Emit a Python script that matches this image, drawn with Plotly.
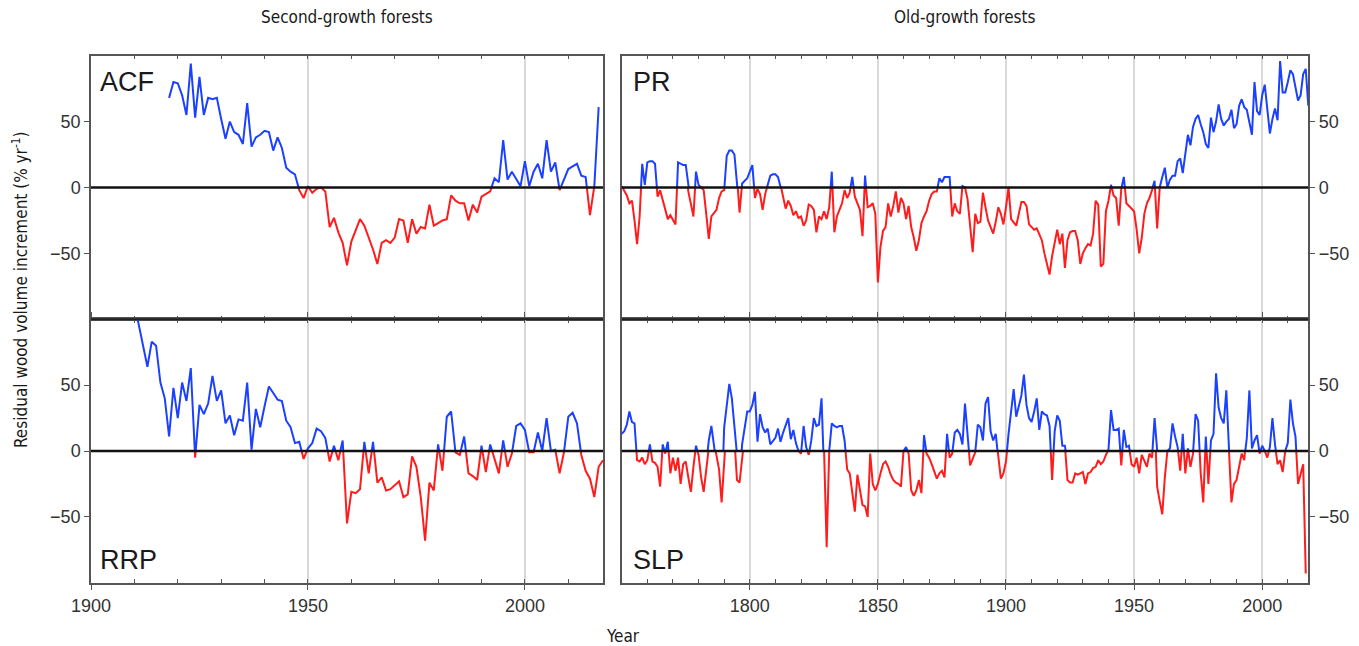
import plotly.graph_objects as go

# ---------------------------------------------------------------------------
# Residual wood volume increment (% per year), annual series per site
# ---------------------------------------------------------------------------
ACF_START = 1918
ACF = [
    68, 80, 79, 70, 55, 94, 53, 84, 55, 68,
    67, 68, 52, 37, 50, 42, 40, 33, 64, 31,
    38, 40, 43, 42, 28, 38, 30, 15, 12, 10,
    -2, -8, 1, -4, -1, 0, -3, -30, -23, -34,
    -42, -59, -41, -32, -24, -29, -38, -47, -58, -42,
    -40, -42, -38, -24, -25, -42, -24, -35, -30, -31,
    -13, -29, -27, -25, -24, -6, -10, -12, -12, -25,
    -13, -19, -7, -5, -3, 7, 4, 36, 6, 12,
    7, 1, 20, 1, 12, 18, 7, 36, 12, 19,
    -2, 6, 14, 16, 18, 9, 8, -21, 1, 61,
]

RRP_START = 1910
RRP = [
    112, 95, 80, 64, 83, 80, 52, 40, 11, 48,
    25, 52, 38, 63, -5, 35, 28, 36, 57, 38,
    46, 21, 27, 12, 24, 23, 52, 1, 32, 18,
    34, 49, 44, 39, 38, 23, 18, 6, 7, -6,
    2, 6, 17, 15, 10, -8, 4, -7, 8, -55,
    -31, -32, -29, 7, -17, 7, -24, -20, -30, -29,
    -26, -23, -35, -33, -4, -12, -35, -68, -24, -30,
    5, -15, 26, 30, -1, -3, 11, -17, -19, -22,
    4, -16, 5, -7, -17, 8, -12, -2, 19, 21,
    16, -1, -1, 14, 0, 25, 0, 1, -17, -1,
    26, 29, 21, -3, -15, -21, -35, -12, -7,
]

PR_START = 1750
PR = [
    1, -2, -6, -12, -10, -25, -43, -22, 18, 2,
    19, 20, 20, 18, -7, -2, -10, -18, -24, -21,
    -25, -28, 19, 18, 17, 17, -3, -12, -22, 12,
    2, 0, -2, -20, -39, -22, -19, -17, -8, -3,
    -2, 24, 28, 28, 25, 8, -19, 3, 5, 7,
    12, 17, -8, -1, -5, -17, -5, 2, 9, 10,
    10, 8, 2, -7, -16, -10, -14, -21, -18, -23,
    -22, -29, -25, -13, -14, -17, -34, -22, -24, -18,
    -24, -15, 12, -34, -22, -17, -12, -2, -8, -4,
    8, -7, -12, -17, -37, 9, -15, -14, -12, -20,
    -72, -45, -33, -30, -12, -22, -14, -3, -19, -8,
    -12, -24, -14, -30, -38, -48, -40, -27, -22, -18,
    -10, -5, -3, -3, 7, 4, 8, 8, 8, -22,
    -12, -18, -20, 1, 0, -9, -30, -49, -20, -27,
    -26, -4, -15, -25, -30, -35, -26, -15, -20, -28,
    -15, 0, -24, -27, -29, -20, -11, -11, -14, -28,
    -30, -32, -31, -35, -40, -50, -57, -66, -52, -42,
    -32, -43, -35, -61, -40, -34, -33, -33, -40, -58,
    -50, -46, -43, -44, -35, -10, -13, -60, -58, -18,
    -10, 2, -6, -8, -29, -1, 8, -12, -14, -16,
    -18, -32, -50, -38, -20, -12, -8, -2, 5, -31,
    0, 8, 15, 0, 6, 9, 9, 20, 22, 11,
    28, 40, 32, 46, 52, 55, 48, 42, 33, 30,
    53, 42, 50, 63, 52, 47, 50, 52, 59, 45,
    48, 62, 67, 61, 59, 50, 40, 80, 58, 55,
    70, 78, 58, 41, 52, 60, 51, 96, 72, 72,
    80, 89, 86, 75, 66, 70, 86, 90, 62,
]

SLP_START = 1750
SLP = [
    13, 15, 20, 30, 22, 21, -7, -8, -5, -10,
    -7, 5, -8, -9, -12, -27, 5, -2, 7, -17,
    -5, -15, -5, -25, -10, -8, -20, -31, -12, 4,
    -3, -20, -31, -10, 8, 19, 7, -5, -14, -39,
    18, 35, 51, 40, 11, -22, -24, 5, 18, 30,
    30, 35, 45, 7, 28, 18, 14, 17, 5, 8,
    10, 17, 7, 14, 20, 25, 9, 16, 6, 0,
    -2, 19, 3, -3, 8, 25, 19, 20, 40, 0,
    -73, 0, 21, 19, 18, 19, 19, 8, -14, -17,
    -30, -46, -18, -30, -41, -42, -50, -2, -25, -30,
    -25, -17, -10, -8, -12, -18, -22, -24, -25, -27,
    0, 3, -2, -30, -34, -30, -22, -32, 12, -2,
    -5, -10, -15, -21, -17, -15, -20, 13, -5, -2,
    14, 16, 13, 5, 36, 12, -11, -6, -1, 20,
    18, 8, 36, 41, 15, 8, 13, -6, -21, -17,
    -8, 13, 30, 47, 26, 35, 42, 58, 35, 25,
    22, 30, 40, 16, 30, 28, 27, 19, -22, 15,
    27, 23, 4, 4, -22, -24, -24, -17, -18, -17,
    -16, -25, -17, -16, -13, -12, -7, -10, -8, -3,
    1, 31, 16, 16, 17, -11, 16, 3, 4, -10,
    -12, -5, -17, -3, -8, -12, -2, -5, 25, -27,
    -38, -48, -20, 0, 2, 21, 11, 3, -15, 13,
    -17, 2, -12, -2, 28, 23, -17, -39, 11, -25,
    8, 13, 59, 33, 25, 21, 46, 2, -39, -25,
    -22, -12, -2, -7, 10, 46, 2, 8, 12, -2,
    4, 0, -5, 3, 25, 5, -10, -7, -16, 0,
    6, 39, 21, 11, -25, -17, -10, -93,
]

COLUMN_TITLES = ["Second-growth forests", "Old-growth forests"]
Y_TITLE = "Residual wood volume increment (% yr<sup>-1</sup>)"
X_TITLE = "Year"

X_RANGES = [(1900, 2018), (1750, 2018)]
X_LABELLED = [[1900, 1950, 2000], [1800, 1850, 1900, 1950, 2000]]
X_MINOR = [list(range(1910, 2018, 10)), list(range(1760, 2018, 10))]
Y_RANGE = (-100, 100)
Y_TICKS = [-50, 0, 50]

# ---------------------------------------------------------------------------
# Styling / layout
# ---------------------------------------------------------------------------
W, H = 1359, 646
BLUE = "rgb(28,64,255)"
RED = "rgb(255,28,28)"
FRAME = "#555555"
CONDENSED = "DejaVu Sans Condensed, Liberation Sans Narrow, sans-serif"
REGULAR = "Liberation Sans, Arial, sans-serif"

COL_X = [(91 / W, 603 / W), (621.7 / W, 1308.3 / W)]
ROW_Y = [(1 - 319.3 / H, 1 - 55.7 / H), (1 - 582.7 / H, 1 - 319.3 / H)]

panels = [
    dict(name="ACF", start=ACF_START, vals=ACF, col=0, row=0, label_y=82),
    dict(name="PR", start=PR_START, vals=PR, col=1, row=0, label_y=82),
    dict(name="RRP", start=RRP_START, vals=RRP, col=0, row=1, label_y=560),
    dict(name="SLP", start=SLP_START, vals=SLP, col=1, row=1, label_y=560),
]
LABEL_X = [98, 631]


def axis_key(kind, n):
    return f"{kind}axis" if n == 1 else f"{kind}axis{n}"


def axis_ref(kind, n):
    return kind if n == 1 else f"{kind}{n}"


fig = go.Figure()
layout = {}
shapes = []
annotations = []
tick_font = dict(family=REGULAR, size=18, color="#333333")

for i, p in enumerate(panels):
    c, r = p["col"], p["row"]
    main, aux, top, bot = i + 1, i + 5, i + 5, i + 9
    y0, y1 = ROW_Y[r]
    ymid = (y0 + y1) / 2
    bottom_row = r == 1

    # framed panel with ticks, grid and labels
    layout[axis_key("x", main)] = dict(
        domain=COL_X[c], range=X_RANGES[c], anchor=axis_ref("y", main),
        tickmode="array", tickvals=X_LABELLED[c],
        showticklabels=bottom_row, ticks="outside" if bottom_row else "",
        ticklen=6, tickwidth=1.3, tickcolor=FRAME,
        minor=dict(tickmode="array", tickvals=X_MINOR[c], ticks="inside",
                   ticklen=4, tickwidth=1.2, tickcolor=FRAME, showgrid=False),
        showgrid=True, gridcolor="#d9d9d9", gridwidth=1.5,
        showline=True, linecolor=FRAME, linewidth=1.5, mirror="ticks",
        zeroline=False, fixedrange=True, automargin=False,
        tickfont=tick_font,
    )
    layout[axis_key("y", main)] = dict(
        domain=[y0, y1], range=Y_RANGE, anchor=axis_ref("x", main),
        side="left" if c == 0 else "right",
        tickmode="array", tickvals=Y_TICKS, ticks="outside",
        ticklen=5, tickwidth=1.3, tickcolor=FRAME,
        showline=True, linecolor=FRAME, linewidth=1.5, mirror=True,
        showgrid=False, zeroline=False, fixedrange=True, automargin=False,
        tickfont=tick_font,
    )

    # hidden axes: positive half and negative half of the panel, so each
    # coloured copy of the series is clipped at zero
    layout[axis_key("x", aux)] = dict(
        domain=COL_X[c], range=X_RANGES[c], anchor=axis_ref("y", top),
        visible=False, fixedrange=True,
    )
    layout[axis_key("y", top)] = dict(
        domain=[ymid, y1], range=[0, Y_RANGE[1]], anchor=axis_ref("x", aux),
        visible=False, fixedrange=True,
    )
    layout[axis_key("y", bot)] = dict(
        domain=[y0, ymid], range=[Y_RANGE[0], 0], anchor=axis_ref("x", aux),
        visible=False, fixedrange=True,
    )

    years = list(range(p["start"], p["start"] + len(p["vals"])))
    fig.add_trace(go.Scatter(
        x=years, y=p["vals"], mode="lines",
        line=dict(color=BLUE, width=2),
        xaxis=axis_ref("x", aux), yaxis=axis_ref("y", top),
        hoverinfo="skip", showlegend=False,
    ))
    fig.add_trace(go.Scatter(
        x=years, y=p["vals"], mode="lines",
        line=dict(color=RED, width=2),
        xaxis=axis_ref("x", aux), yaxis=axis_ref("y", bot),
        hoverinfo="skip", showlegend=False,
    ))

    # zero reference line
    shapes.append(dict(
        type="line", layer="above",
        xref=f"{axis_ref('x', main)} domain", x0=0, x1=1,
        yref=axis_ref("y", main), y0=0, y1=0,
        line=dict(color="#111111", width=2.5),
    ))

    annotations.append(dict(
        text=p["name"], showarrow=False,
        xref="paper", yref="paper", x=LABEL_X[c] / W, y=1 - p["label_y"] / H,
        xanchor="left", yanchor="middle",
        font=dict(family=REGULAR, size=27, color="#1a1a1a"),
    ))

# divider between upper and lower rows
for c in range(2):
    shapes.append(dict(
        type="line", layer="above", xref="paper", yref="paper",
        x0=COL_X[c][0], x1=COL_X[c][1], y0=ROW_Y[0][0], y1=ROW_Y[0][0],
        line=dict(color="#222222", width=2),
    ))

title_font = dict(family=CONDENSED, size=17, color="#1a1a1a")
for c, title in enumerate(COLUMN_TITLES):
    annotations.append(dict(
        text=title, showarrow=False, xref="paper", yref="paper",
        x=(COL_X[c][0] + COL_X[c][1]) / 2, y=1 - 17 / H,
        xanchor="center", yanchor="middle", font=title_font,
    ))

annotations.append(dict(
    text=Y_TITLE, showarrow=False, xref="paper", yref="paper",
    x=20 / W, y=1 - 290 / H, textangle=-90,
    xanchor="center", yanchor="middle", font=title_font,
))
annotations.append(dict(
    text=X_TITLE, showarrow=False, xref="paper", yref="paper",
    x=623 / W, y=1 - 636 / H, xanchor="center", yanchor="middle",
    font=title_font,
))

fig.update_layout(
    width=W, height=H,
    margin=dict(l=0, r=0, t=0, b=0, autoexpand=False),
    paper_bgcolor="white", plot_bgcolor="rgba(0,0,0,0)",
    hovermode=False, showlegend=False,
    shapes=shapes, annotations=annotations,
    **layout,
)

fig.write_html("out.html", config=dict(displayModeBar=False))
